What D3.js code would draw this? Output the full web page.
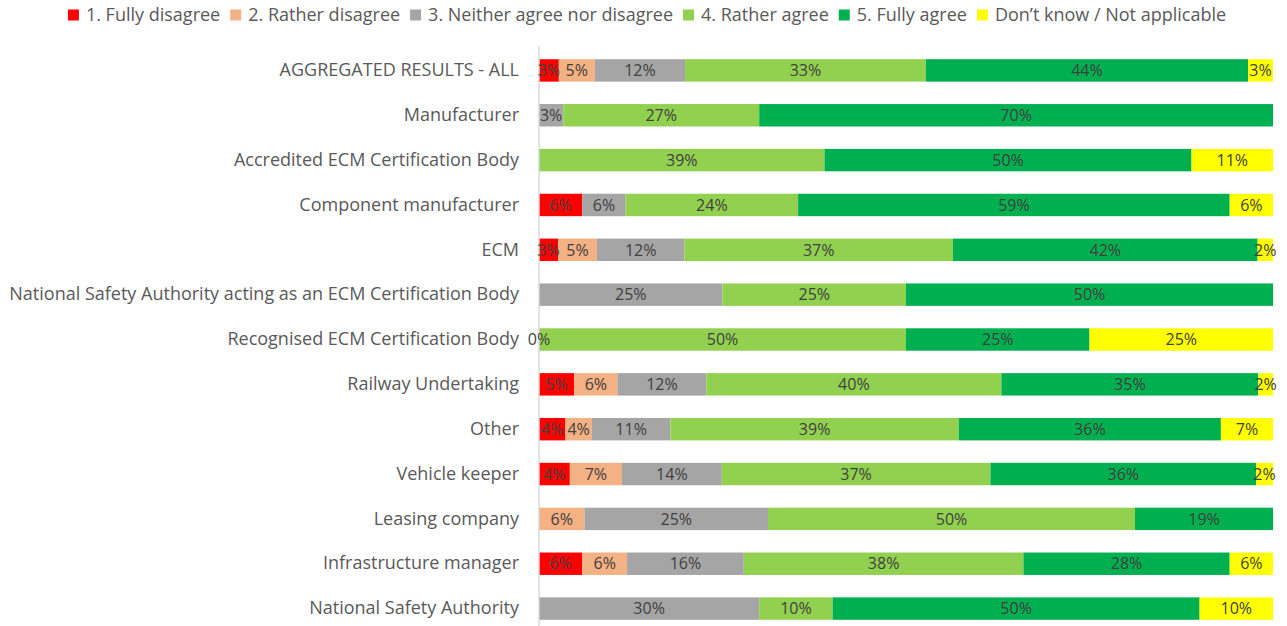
<!DOCTYPE html>
<html>
<head>
<meta charset="utf-8">
<script src="https://cdn.jsdelivr.net/npm/d3@7"></script>
<style>
  body { margin: 0; background: #fff; }
  text { font-family: "Open Sans", sans-serif; }
</style>
</head>
<body>
<script>
// categories, top to bottom
var categories = [
    "AGGREGATED RESULTS - ALL",
    "Manufacturer",
    "Accredited ECM Certification Body",
    "Component manufacturer",
    "ECM",
    "National Safety Authority acting as an ECM Certification Body",
    "Recognised ECM Certification Body",
    "Railway Undertaking",
    "Other",
    "Vehicle keeper",
    "Leasing company",
    "Infrastructure manager",
    "National Safety Authority"
];

// percentages per answer (null = no segment)
var fullyDisagree  = [2.7, null, null, 5.9, 2.6, null, 0, 4.8, 3.6, 4.2, null, 5.9, null];
var ratherDisagree = [4.9, null, null, null, 5.3, null, null, 5.9, 3.6, 7.1, 6.2, 6.1, null];
var neither        = [12.3, 3.3, null, 5.9, 11.9, 25, null, 12.1, 10.7, 13.6, 25, 15.9, 30];
var ratherAgree    = [32.8, 26.7, 38.9, 23.5, 36.6, 25, 50, 40.2, 39.3, 36.6, 50, 38.1, 10];
var fullyAgree     = [43.9, 70, 50, 58.8, 41.5, 50, 25, 35, 35.7, 36.2, 18.8, 28.1, 50];
var dontKnow       = [3.4, null, 11.1, 5.9, 2.1, null, 25, 2, 7.1, 2.3, null, 5.9, 10];

var seriesNames = ["1. Fully disagree", "2. Rather disagree", "3. Neither agree nor disagree",
    "4. Rather agree", "5. Fully agree", "Don\u2019t know / Not applicable"];
var seriesColors = ["#FF0000", "#F4B183", "#A5A5A5", "#92D050", "#00B050", "#FFFF00"];
var seriesValues = [fullyDisagree, ratherDisagree, neither, ratherAgree, fullyAgree, dontKnow];

var width = 1287, height = 626;
var margin = {top: 48, right: 14, bottom: -5, left: 539};

var svg = d3.select("body").append("svg")
    .attr("width", width)
    .attr("height", height);

var x = d3.scaleLinear().domain([0, 100]).range([margin.left, width - margin.right]);
var y = d3.scaleBand().domain(categories)
    .range([margin.top, height - margin.bottom])
    .paddingInner(0.5).paddingOuter(0.25);

// build stacked segments
var segments = [];
categories.forEach(function (c, i) {
    var acc = 0;
    seriesValues.forEach(function (vals, s) {
        var v = vals[i];
        if (v === null) return;
        segments.push({cat: c, s: s, x0: acc, x1: acc + v, v: v});
        acc += v;
    });
});

svg.append("g").selectAll("rect")
    .data(segments)
    .join("rect")
    .attr("x", d => x(d.x0))
    .attr("y", d => y(d.cat))
    .attr("width", d => x(d.x1) - x(d.x0))
    .attr("height", y.bandwidth())
    .attr("fill", d => seriesColors[d.s]);

// vertical axis line
svg.append("line")
    .attr("x1", x(0)).attr("x2", x(0))
    .attr("y1", 46).attr("y2", height)
    .attr("stroke", "#D9D9D9")
    .attr("stroke-width", 1.5);

// category labels
var yAxis = d3.axisLeft(y).tickSize(0).tickPadding(20);
var gy = svg.append("g")
    .attr("transform", "translate(" + x(0) + ",0)")
    .call(yAxis);
gy.select(".domain").remove();
gy.selectAll("text")
    .attr("fill", "#595959")
    .style("font-size", "18px")
    .style("font-family", "'Open Sans', sans-serif");

// data labels
svg.append("g").selectAll("text")
    .data(segments)
    .join("text")
    .attr("x", d => (x(d.x0) + x(d.x1)) / 2)
    .attr("y", d => y(d.cat) + y.bandwidth() / 2)
    .attr("dy", "0.36em")
    .attr("text-anchor", "middle")
    .attr("fill", "#404040")
    .style("font-size", "16px")
    .text(d => Math.round(d.v) + "%");

// legend
var legend = svg.append("g");
var lx = 0;
seriesNames.forEach(function (name, i) {
    var item = legend.append("g").attr("transform", "translate(" + lx + ",0)");
    item.append("rect")
        .attr("x", 0).attr("y", -5.5)
        .attr("width", 11).attr("height", 11)
        .attr("fill", seriesColors[i]);
    var t = item.append("text")
        .attr("x", 18).attr("dy", "0.36em")
        .attr("fill", "#595959")
        .style("font-size", "18px")
        .text(name);
    lx += 18 + t.node().getComputedTextLength() + 10;
});
lx -= 10;
legend.attr("transform", "translate(" + (647 - lx / 2) + ",15)");
</script>
</body>
</html>
